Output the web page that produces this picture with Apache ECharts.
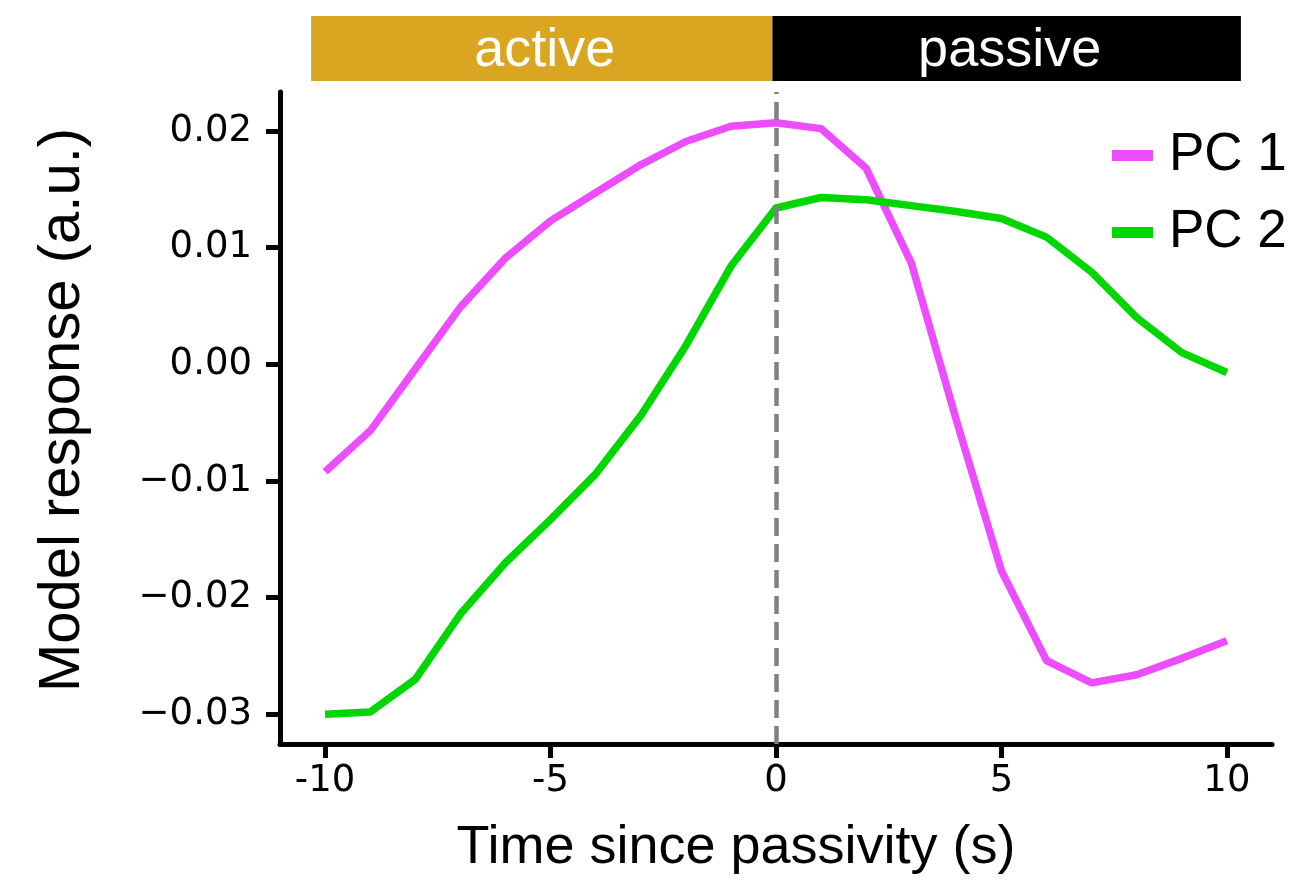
<!DOCTYPE html>
<html>
<head>
<meta charset="utf-8">
<script src="https://cdn.jsdelivr.net/npm/echarts@6/dist/echarts.min.js"></script>
<style>
  html, body { margin: 0; padding: 0; background: #ffffff; }
  #chart { width: 1291px; height: 880px; }
</style>
</head>
<body>
<div id="chart"></div>
<script>
// ---- data ----
const timeSec = [-10, -9, -8, -7, -6, -5, -4, -3, -2, -1, 0, 1, 2, 3, 4, 5, 6, 7, 8, 9, 10];
const pc1 = [-0.0092, -0.0057, -0.0004, 0.0049, 0.0091, 0.0123, 0.0147, 0.0171, 0.0191, 0.0204, 0.0207,
             0.0202, 0.0168, 0.0087, -0.0048, -0.0177, -0.0254, -0.0273, -0.0266, -0.0252, -0.0237];
const pc2 = [-0.0300, -0.0298, -0.0270, -0.0214, -0.0170, -0.0133, -0.0094, -0.0044, 0.0016, 0.0084, 0.0134,
             0.0143, 0.0141, 0.0136, 0.0131, 0.0125, 0.0109, 0.0079, 0.0040, 0.0010, -0.0007];
const seriesNames = ['PC 1', 'PC 2'];
const xTicks = [-10, -5, 0, 5, 10];
const yTicks = [-0.03, -0.02, -0.01, 0.00, 0.01, 0.02];
const phaseNames = ['active', 'passive'];
const phaseStart = [-10.31, -0.08];
const phaseEnd = [-0.08, 10.31];
const phaseColors = ['#DAA520', '#000000'];
const xRange = [-11, 11];
const yRange = [-0.03254, 0.02334];

// ---- build ----
const chart = echarts.init(document.getElementById('chart'), null, { renderer: 'canvas' });
const tickFont = 'DejaVu Sans';
const titleFont = 'Liberation Sans, Arial, sans-serif';

const phaseData = phaseNames.map((n, i) => [phaseStart[i], phaseEnd[i], i]);

const option = {
  animation: false,
  backgroundColor: '#ffffff',
  grid: [
    { left: 280, right: 19, top: 92, bottom: 135, containLabel: false },
    { left: 280, right: 19, top: 16, height: 65, containLabel: false }
  ],
  legend: {
    data: seriesNames,
    orient: 'vertical',
    left: 1107,
    top: 124,
    itemWidth: 41,
    itemHeight: 11,
    itemGap: 24,
    icon: 'rect',
    textStyle: { fontSize: 53, fontFamily: titleFont, color: '#000', padding: [0, 0, 0, 11] }
  },
  xAxis: [
    {
      type: 'value', gridIndex: 0, min: xRange[0], max: xRange[1],
      name: 'Time since passivity (s)', nameLocation: 'middle', nameGap: 77,
      nameTextStyle: { fontSize: 54, fontFamily: titleFont, color: '#000', padding: [0, 80, 0, 0] },
      axisLine: { show: true, onZero: false, lineStyle: { color: '#000', width: 5 } },
      axisTick: { show: true, length: 14, lineStyle: { color: '#000', width: 5 }, customValues: xTicks },
      axisLabel: { show: true, fontSize: 37, fontFamily: tickFont, color: '#000', margin: 19,
                   customValues: xTicks, formatter: v => String(v) },
      splitLine: { show: false }
    },
    { type: 'value', gridIndex: 1, min: xRange[0], max: xRange[1], show: false }
  ],
  yAxis: [
    {
      type: 'value', gridIndex: 0, min: yRange[0], max: yRange[1],
      name: 'Model response (a.u.)', nameLocation: 'middle', nameGap: 188,
      nameTextStyle: { fontSize: 58, fontFamily: titleFont, color: '#000', padding: [0, 0, 0, 16] },
      axisLine: { show: true, onZero: false, lineStyle: { color: '#000', width: 5 } },
      axisTick: { show: true, length: 14, lineStyle: { color: '#000', width: 5 }, customValues: yTicks },
      axisLabel: { show: true, fontSize: 37, fontFamily: tickFont, color: '#000', margin: 28,
                   customValues: yTicks,
                   formatter: v => (v < 0 ? '\u2212' : '') + Math.abs(v).toFixed(2) },
      splitLine: { show: false }
    },
    { type: 'value', gridIndex: 1, min: 0, max: 1, show: false }
  ],
  series: [
    {
      name: seriesNames[0], type: 'line', xAxisIndex: 0, yAxisIndex: 0,
      data: timeSec.map((t, i) => [t, pc1[i]]),
      showSymbol: false, symbol: 'none',
      lineStyle: { color: '#EC4DFE', width: 7.5, cap: 'butt', join: 'round' },
      itemStyle: { color: '#EC4DFE' },
      z: 3,
      markLine: {
        silent: true, symbol: 'none', label: { show: false },
        lineStyle: { color: '#808080', type: [18, 8], width: 4.5 },
        emphasis: { disabled: true },
        data: [{ xAxis: 0 }]
      }
    },
    {
      name: seriesNames[1], type: 'line', xAxisIndex: 0, yAxisIndex: 0,
      data: timeSec.map((t, i) => [t, pc2[i]]),
      showSymbol: false, symbol: 'none',
      lineStyle: { color: '#00D700', width: 7.5, cap: 'butt', join: 'round' },
      itemStyle: { color: '#00D700' },
      z: 3
    },
    {
      type: 'custom', xAxisIndex: 1, yAxisIndex: 1,
      data: phaseData,
      encode: { x: [0, 1] },
      silent: true,
      renderItem: function (params, api) {
        const idx = api.value(2);
        const p0 = api.coord([api.value(0), 1]);
        const p1 = api.coord([api.value(1), 0]);
        return {
          type: 'rect',
          shape: { x: p0[0], y: p0[1], width: p1[0] - p0[0], height: p1[1] - p0[1] },
          style: { fill: phaseColors[idx] },
          textContent: {
            style: { text: phaseNames[idx], fill: '#ffffff', fontSize: 54, fontFamily: titleFont }
          },
          textConfig: { position: 'inside', offset: [3, 3] }
        };
      }
    }
  ]
};
chart.setOption(option);
</script>
</body>
</html>
